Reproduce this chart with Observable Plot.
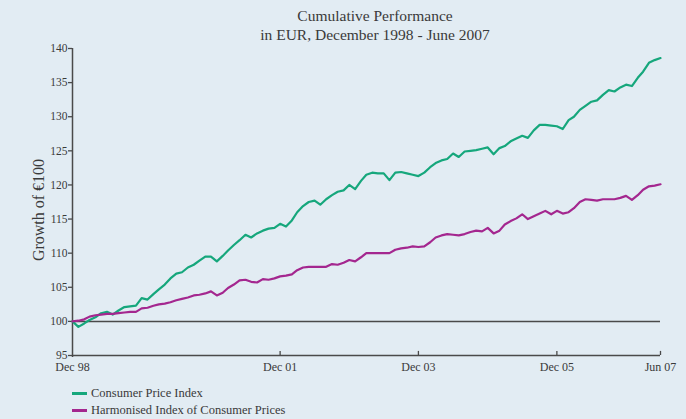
<!DOCTYPE html>
<html>
<head>
<meta charset="utf-8">
<script src="https://cdn.jsdelivr.net/npm/d3@7"></script>
<script src="https://cdn.jsdelivr.net/npm/@observablehq/plot@0.6"></script>
<style>
  html, body { margin: 0; padding: 0; background: #e2ecf3; }
  #wrap { position: relative; width: 686px; height: 419px; background: #e2ecf3; font-family: "Liberation Serif", "DejaVu Serif", serif; color: #3a3a3a; overflow: hidden; }
  #title { position: absolute; top: 6px; left: 175px; width: 400px; text-align: center; font-size: 15.5px; line-height: 19px; color: #3a3a3a; }
  #chart { position: absolute; left: 0; top: 0; }
  .leg { position: absolute; left: 72px; font-size: 12.5px; display: flex; align-items: center; color: #3a3a3a; }
  .sw { display: inline-block; width: 15px; height: 2.5px; margin-right: 4px; }
</style>
</head>
<body>
<div id="wrap">
  <div id="chart"></div>
  <div id="title">Cumulative Performance<br>in EUR, December 1998 - June 2007</div>
  <div class="leg" style="top:386px"><span class="sw" style="background:#16a77c"></span>Consumer Price Index</div>
  <div class="leg" style="top:403px"><span class="sw" style="background:#a4278f"></span>Harmonised Index of Consumer Prices</div>
</div>
<script>
// Monthly values, December 1998 (index 0) to June 2007 (index 102)
const cpi = [
  100.0, 99.2, 99.7, 100.2, 100.6, 101.2, 101.4, 101.0, 101.6, 102.1, 102.2, 102.3,
  103.4, 103.2, 104.0, 104.7, 105.4, 106.3, 107.0, 107.2, 107.9, 108.3, 108.9, 109.5,
  109.5, 108.8, 109.6, 110.4, 111.2, 111.9, 112.7, 112.3, 112.9, 113.3, 113.6, 113.7,
  114.3, 113.9, 114.8, 116.0, 116.9, 117.5, 117.7, 117.1, 117.9, 118.5, 119.0, 119.2,
  120.0, 119.4, 120.6, 121.5, 121.8, 121.7, 121.7, 120.7, 121.8, 121.9, 121.7, 121.5,
  121.3, 121.8, 122.6, 123.2, 123.6, 123.8, 124.6, 124.1, 124.9, 125.0, 125.1, 125.3,
  125.5, 124.5, 125.4, 125.7, 126.4, 126.8, 127.2, 126.9, 128.0, 128.8, 128.8, 128.7,
  128.6, 128.2, 129.5, 130.0, 131.0, 131.6, 132.2, 132.4, 133.2, 133.9, 133.7, 134.3,
  134.7, 134.5, 135.7, 136.6, 137.9, 138.3, 138.6
];
const hicp = [
  100.0, 100.1, 100.3, 100.7, 100.9, 101.0, 101.1, 101.1, 101.2, 101.3, 101.4, 101.4,
  101.9, 102.0, 102.3, 102.5, 102.6, 102.8, 103.1, 103.3, 103.5, 103.8, 103.9, 104.1,
  104.4, 103.8, 104.2, 104.9, 105.4, 106.0, 106.1, 105.8, 105.7, 106.2, 106.1, 106.3,
  106.6, 106.7, 106.9, 107.5, 107.9, 108.0, 108.0, 108.0, 108.0, 108.4, 108.3, 108.6,
  109.0, 108.8, 109.4, 110.0, 110.0, 110.0, 110.0, 110.0, 110.5, 110.7, 110.8, 111.0,
  110.9, 111.0, 111.6, 112.3, 112.6, 112.8, 112.7, 112.6, 112.8, 113.1, 113.3, 113.2,
  113.7, 112.9, 113.3, 114.2, 114.7, 115.1, 115.7, 115.0, 115.4, 115.8, 116.2, 115.7,
  116.2, 115.8, 116.0, 116.6, 117.5, 117.9, 117.8, 117.7, 117.9, 117.9, 117.9, 118.1,
  118.4, 117.8, 118.5, 119.3, 119.8, 119.9, 120.1
];
const seriesNames = ["Consumer Price Index", "Harmonised Index of Consumer Prices"];
const seriesColors = ["#16a77c", "#a4278f"];
const tickLabels = ["Dec 98", "Dec 01", "Dec 03", "Dec 05", "Jun 07"];
const tickMonths = [0, 36, 60, 84, 102];
const yTicks = [95, 100, 105, 110, 115, 120, 125, 130, 135, 140];

const monthDate = i => new Date(Date.UTC(1998, 11 + i, 1));
const rows = [];
cpi.forEach((v, i) => rows.push({date: monthDate(i), value: v, series: seriesNames[0]}));
hicp.forEach((v, i) => rows.push({date: monthDate(i), value: v, series: seriesNames[1]}));
const tickDates = tickMonths.map(monthDate);
const labelOf = new Map(tickDates.map((d, i) => [+d, tickLabels[i]]));
const x0 = tickDates[0], x1 = tickDates[tickDates.length - 1];
const axisColor = "#4a4a4a";

const chart = Plot.plot({
  width: 686,
  height: 380,
  marginTop: 48,
  marginLeft: 72,
  marginRight: 26,
  marginBottom: 25,
  style: {background: "transparent", fontFamily: "'Liberation Serif', 'DejaVu Serif', serif", fontSize: "12px", color: "#3a3a3a"},
  x: {type: "utc", domain: [x0, x1]},
  y: {domain: [95, 140]},
  color: {domain: seriesNames, range: seriesColors},
  marks: [
    Plot.axisY({ticks: yTicks, tickSize: 4, tickPadding: 1, label: null, stroke: axisColor, strokeWidth: 1.3, fontSize: 11.5}),
    Plot.axisX({ticks: tickDates, tickSize: 0, tickPadding: 7, label: null, tickFormat: d => labelOf.get(+d), fontSize: 12}),
    Plot.ruleX(tickDates.slice(1), {y1: 95, y2: 95.6, stroke: axisColor, strokeWidth: 1.3}),
    Plot.ruleX([x0], {y1: 94.7, y2: 140, stroke: axisColor, strokeWidth: 1.5}),
    Plot.ruleY([95], {x1: x0, x2: x1, stroke: axisColor, strokeWidth: 1.5}),
    Plot.ruleY([100], {x1: x0, x2: x1, stroke: axisColor, strokeWidth: 1.5}),
    Plot.line(rows, {x: "date", y: "value", z: "series", stroke: "series", strokeWidth: 2.2, curve: "linear"}),
    Plot.text(["Growth of €100"], {frameAnchor: "left", textAnchor: "middle", dx: -34, dy: 8, rotate: -90, fontSize: 16, fill: "#3a3a3a"})
  ]
});
document.getElementById("chart").appendChild(chart);
</script>
</body>
</html>
